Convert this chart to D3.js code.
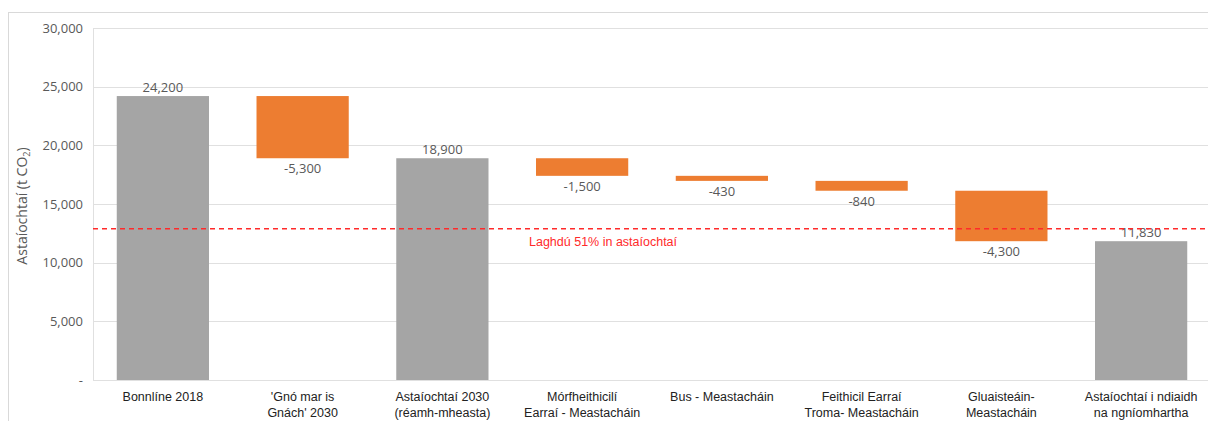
<!DOCTYPE html>
<html>
<head>
<meta charset="utf-8">
<script src="https://cdn.jsdelivr.net/npm/d3@7"></script>
<style>
  body { margin: 0; background: #fff; }
  svg { display: block; }
</style>
</head>
<body>
<svg width="1208" height="421"></svg>
<script>
// categories (two lines each)
var categories = [
    ["Bonnlíne 2018"],
    ["'Gnó mar is", "Gnách' 2030"],
    ["Astaíochtaí 2030", "(réamh-mheasta)"],
    ["Mórfheithicilí", "Earraí - Meastacháin"],
    ["Bus - Meastacháin"],
    ["Feithicil Earraí", "Troma- Meastacháin"],
    ["Gluaisteáin-", "Meastacháin"],
    ["Astaíochtaí i ndiaidh", "na ngníomhartha"]
];
// value for each step; "total" bars start at zero, "delta" bars float
var stepValues = [24200, -5300, 18900, -1500, -430, -840, -4300, 11830];
var stepTypes  = ["total", "delta", "total", "delta", "delta", "delta", "delta", "total"];
var labelText  = ["24,200", "-5,300", "18,900", "-1,500", "-430", "-840", "-4,300", "11,830"];
var yTicks = [0, 5000, 10000, 15000, 20000, 25000, 30000];
var targetValue = 12900;
var targetLabel = "Laghdú 51% in astaíochtaí";

var svg = d3.select("svg"),
    margin = {top: 28, left: 93, bottom: 41},
    plotRight = 1211,
    plotBottom = 421 - margin.bottom;

// outer chart frame (cut on the right like the original)
svg.append("rect")
    .attr("x", 8.5).attr("y", 12.5)
    .attr("width", 1300).attr("height", 500)
    .attr("fill", "none")
    .attr("stroke", "#d9d9d9");

var x = d3.scaleBand()
    .domain(d3.range(categories.length))
    .range([margin.left, plotRight])
    .paddingInner(0.34)
    .paddingOuter(0.17);

var y = d3.scaleLinear()
    .domain([0, 30000])
    .range([plotBottom, margin.top]);

// build waterfall start/end
var running = 0;
var bars = stepValues.map(function(v, i) {
    var d = {i: i, type: stepTypes[i], label: labelText[i]};
    if (stepTypes[i] === "total") {
        d.y0 = 0; d.y1 = v; running = v;
    } else {
        d.y0 = running + v; d.y1 = running; running = running + v;
    }
    return d;
});

// gridlines
svg.append("g")
    .selectAll("line")
    .data(yTicks.slice(1))
    .enter().append("line")
    .attr("x1", margin.left).attr("x2", plotRight)
    .attr("y1", function(d) { return Math.round(y(d)) + 0.5; })
    .attr("y2", function(d) { return Math.round(y(d)) + 0.5; })
    .attr("stroke", "#e0e0e0");

// y axis
var yAxis = svg.append("g")
    .attr("transform", "translate(" + margin.left + ",0)")
    .call(d3.axisLeft(y).tickValues(yTicks).tickSize(0).tickPadding(10)
        .tickFormat(function(d) { return d === 0 ? "-" : d3.format(",")(d); }));
yAxis.select(".domain").attr("stroke", "#e0e0e0");
yAxis.selectAll("text")
    .attr("font-family", "'Open Sans', sans-serif")
    .attr("font-size", 13)
    .attr("fill", "#595959");

// x axis baseline
svg.append("line")
    .attr("x1", margin.left).attr("x2", plotRight)
    .attr("y1", plotBottom + 0.5).attr("y2", plotBottom + 0.5)
    .attr("stroke", "#e0e0e0");

// y axis title
var title = svg.append("text")
    .attr("transform", "translate(27," + ((margin.top + plotBottom) / 2 + 2) + ") rotate(-90)")
    .attr("text-anchor", "middle")
    .attr("font-family", "'Open Sans', sans-serif")
    .attr("font-size", 14)
    .attr("fill", "#595959");
title.append("tspan").text("Astaíochtaí (t CO");
title.append("tspan").attr("font-size", 9).attr("dy", 3).text("2");
title.append("tspan").attr("dy", -3).text(")");

// bars
svg.append("g")
    .selectAll("rect")
    .data(bars)
    .enter().append("rect")
    .attr("x", function(d) { return x(d.i); })
    .attr("width", x.bandwidth())
    .attr("y", function(d) { return y(d.y1); })
    .attr("height", function(d) { return y(d.y0) - y(d.y1); })
    .attr("fill", function(d) { return d.type === "total" ? "#a5a5a5" : "#ed7d31"; });

// value labels: above totals, below deltas
svg.append("g")
    .selectAll("text")
    .data(bars)
    .enter().append("text")
    .attr("x", function(d) { return x(d.i) + x.bandwidth() / 2; })
    .attr("y", function(d) { return d.type === "total" ? y(d.y1) - 4 : y(d.y0) + 15; })
    .attr("text-anchor", "middle")
    .attr("font-family", "'Open Sans', sans-serif")
    .attr("font-size", 13)
    .attr("fill", "#595959")
    .text(function(d) { return d.label; });

// target line
svg.append("line")
    .attr("x1", margin.left).attr("x2", plotRight)
    .attr("y1", y(targetValue)).attr("y2", y(targetValue))
    .attr("stroke", "#ff2a2a")
    .attr("stroke-width", 1.5)
    .attr("stroke-dasharray", "5,4");

svg.append("text")
    .attr("x", 529)
    .attr("y", y(targetValue) + 17)
    .attr("font-family", "'Liberation Sans', Arial, sans-serif")
    .attr("font-size", 12.5)
    .attr("fill", "#ff2a2a")
    .text(targetLabel);

// category labels
var cat = svg.append("g")
    .selectAll("text")
    .data(categories)
    .enter().append("text")
    .attr("text-anchor", "middle")
    .attr("font-family", "'Liberation Sans', Arial, sans-serif")
    .attr("font-size", 12.5)
    .attr("fill", "#222");
cat.selectAll("tspan")
    .data(function(d, i) { return d.map(function(t) { return {t: t, i: i}; }); })
    .enter().append("tspan")
    .attr("x", function(d) { return x(d.i) + x.bandwidth() / 2; })
    .attr("y", function(d, j) { return plotBottom + 21 + j * 16; })
    .text(function(d) { return d.t; });
</script>
</body>
</html>
